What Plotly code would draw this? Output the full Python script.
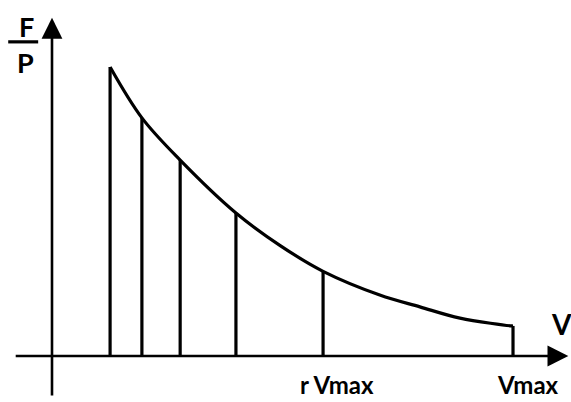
import plotly.graph_objects as go

# Force-per-power curve against speed, V in units of Vmax
curve_v = [0.126, 0.195, 0.278, 0.399, 0.495, 0.588, 0.711, 0.798, 0.885, 0.998, 1.0]
curve_fp = [1.0, 0.824, 0.678, 0.495, 0.382, 0.293, 0.211, 0.170, 0.131, 0.104, 0.104]

# vertical ordinates drawn under the curve
stem_v = [0.126, 0.195, 0.278, 0.399, 0.588, 1.0]
stem_fp = [1.0, 0.824, 0.678, 0.495, 0.293, 0.104]

r_ratio = 0.588
x_label = "V"
y_num, y_den = "F", "P"

ink = "black"
lw = 3.2
font = dict(family="Lato, DejaVu Sans, sans-serif", color=ink)

fig = go.Figure()

# curve
fig.add_trace(go.Scatter(x=curve_v, y=curve_fp, mode="lines",
                         line=dict(color=ink, width=lw, shape="spline", smoothing=1.0),
                         hoverinfo="skip", showlegend=False))

# ordinates
for v, f in zip(stem_v, stem_fp):
    fig.add_trace(go.Scatter(x=[v, v], y=[0, f], mode="lines",
                             line=dict(color=ink, width=lw),
                             hoverinfo="skip", showlegend=False))

# axes with arrowheads
fig.add_annotation(x=1.12, y=0, ax=-0.082, ay=0, xref="x", yref="y", axref="x", ayref="y",
                   showarrow=True, arrowhead=2, arrowsize=1.6, arrowwidth=2.6, arrowcolor=ink, text="")
fig.add_annotation(x=0.0, y=1.17, ax=0.0, ay=-0.142, xref="x", yref="y", axref="x", ayref="y",
                   showarrow=True, arrowhead=2, arrowsize=1.6, arrowwidth=2.6, arrowcolor=ink, text="")

# labels
fig.add_annotation(x=1.105, y=0.112, text=f"<b>{x_label}</b>", showarrow=False,
                   font=dict(size=28, **font))
fig.add_annotation(x=r_ratio + 0.03, y=-0.100, text="<b>r Vmax</b>", showarrow=False,
                   borderpad=0, font=dict(size=24, **font))
fig.add_annotation(x=1.033, y=-0.100, text="<b>Vmax</b>", showarrow=False,
                   borderpad=0, font=dict(size=24, **font))
fig.add_annotation(x=-0.055, y=1.14, text=f"<b>{y_num}</b>", showarrow=False,
                   font=dict(size=27, **font))
fig.add_annotation(x=-0.058, y=1.015, text=f"<b>{y_den}</b>", showarrow=False,
                   font=dict(size=27, **font))
fig.add_shape(type="line", x0=-0.095, x1=-0.03, y0=1.087, y1=1.087,
              line=dict(color=ink, width=lw), xref="x", yref="y")

fig.update_xaxes(range=[-0.1128, 1.1258], visible=False)
fig.update_yaxes(range=[-0.1592, 1.2318], visible=False)
fig.update_layout(width=571, height=402, margin=dict(l=0, r=0, t=0, b=0),
                  plot_bgcolor="white", paper_bgcolor="white")

fig.write_html("out.html")
